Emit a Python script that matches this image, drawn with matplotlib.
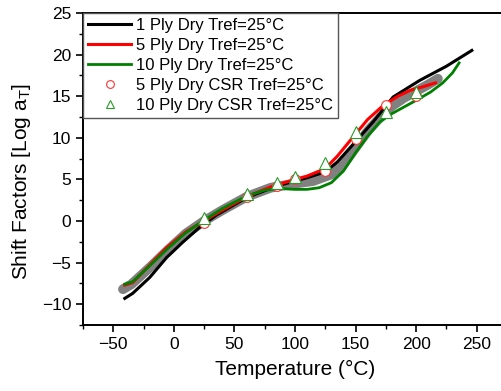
import numpy as np
import matplotlib
matplotlib.use("Agg")
import matplotlib.pyplot as plt
from matplotlib.ticker import MultipleLocator

plt.rcParams['font.family'] = ['Liberation Sans', 'DejaVu Sans']

# curves (temperature in C, log aT)
t_black = [-40.5, -34, -20, -6, 7, 21, 35, 60, 85, 100, 110, 125, 135, 151, 165, 181, 203, 225, 246]
y_black = [-9.3, -8.7, -6.8, -4.4, -2.6, -0.8, 0.7, 2.8, 4.2, 4.8, 5.2, 5.9, 7.1, 9.7, 12.0, 14.9, 16.9, 18.6, 20.5]

t_red = [-40.5, -34, -20, -6, 10, 21.5, 40, 60, 80, 100, 110, 125, 135, 148, 160, 173, 185, 195, 205, 216]
y_red = [-7.7, -7.4, -5.3, -3.2, -1.3, -0.3, 1.3, 2.9, 4.1, 5.0, 5.4, 6.3, 7.8, 10.1, 12.2, 13.9, 15.0, 15.7, 16.1, 16.6]

t_green = [-40.5, -34, -20, -5, 10, 25, 40, 60, 75, 88, 100, 110, 120, 130, 140, 150, 160, 170, 180, 190, 200, 212, 222, 230, 235.5]
y_green = [-7.6, -7.3, -5.4, -3.3, -1.4, 0.1, 1.5, 3.0, 3.7, 3.9, 3.8, 3.8, 4.0, 4.6, 6.0, 8.2, 10.2, 11.9, 12.9, 13.7, 14.5, 15.5, 16.6, 17.8, 19.0]

# wide grey band behind the curves
t_band = [-42, -35, -20, -5, 10, 25, 40, 60, 80, 100, 115, 130, 140, 150, 160, 170, 180, 190, 200, 210, 218]
y_band = [-8.2, -7.6, -5.6, -3.5, -1.5, 0.0, 1.3, 2.9, 4.0, 4.5, 4.8, 5.6, 6.8, 8.8, 10.8, 12.4, 13.8, 14.8, 15.6, 16.4, 17.1]

# CSR points
t_csr = [25, 60, 85, 100, 125, 150, 175, 200]
y_csr5 = [-0.3, 2.9, 4.2, 5.0, 6.0, 9.8, 14.0, 15.0]
y_csr10 = [0.3, 3.3, 4.6, 5.3, 7.0, 10.7, 13.1, 15.5]

fig = plt.figure(figsize=(5.02, 3.91), dpi=100)
ax = fig.add_axes([0.1653, 0.1688, 0.8446, 0.798])

ax.plot(t_band, y_band, color='#808080', lw=7, solid_capstyle='round', zorder=1)
l1, = ax.plot(t_black, y_black, color='black', lw=2.2, zorder=2)
l2, = ax.plot(t_red, y_red, color='#ff0000', lw=2.2, zorder=3)
l3, = ax.plot(t_green, y_green, color='#008000', lw=2.0, zorder=4)
m1, = ax.plot(t_csr, y_csr5, 'o', ms=7, mfc='white', mec='#ff3333', mew=0.8, zorder=5)
m2, = ax.plot(t_csr, y_csr10, '^', ms=8, mfc='white', mec='#2a9a2a', mew=0.8, zorder=6)

ax.set_xlim(-75, 275)
ax.set_ylim(-12.5, 25)
ax.xaxis.set_major_locator(MultipleLocator(50))
ax.xaxis.set_minor_locator(MultipleLocator(25))
ax.yaxis.set_major_locator(MultipleLocator(5))
ax.yaxis.set_minor_locator(MultipleLocator(2.5))
ax.tick_params(which='major', direction='out', length=5, width=1.2, labelsize=12.5)
ax.tick_params(which='minor', direction='out', length=3, width=1.0)
for s in ax.spines.values():
    s.set_linewidth(1.4)

ax.set_xlabel('Temperature (°C)', fontsize=15, labelpad=6)
ax.set_ylabel('Shift Factors [Log a$_\\mathregular{T}$]', fontsize=15)
ax.yaxis.set_label_coords(-0.117, 0.46)

leg = ax.legend([l1, l2, l3, m1, m2],
                ['1 Ply Dry Tref=25°C', '5 Ply Dry Tref=25°C', '10 Ply Dry Tref=25°C',
                 '5 Ply Dry CSR Tref=25°C', '10 Ply Dry CSR Tref=25°C'],
                loc='upper left', bbox_to_anchor=(0, 1), borderaxespad=0, fontsize=12,
                handlelength=2.6, handletextpad=0.3, labelspacing=0.3, borderpad=0.3,
                markerscale=0.8, fancybox=False, framealpha=1, edgecolor='#555555')
leg.get_frame().set_linewidth(1.0)

fig.savefig('out.png', dpi=100)
